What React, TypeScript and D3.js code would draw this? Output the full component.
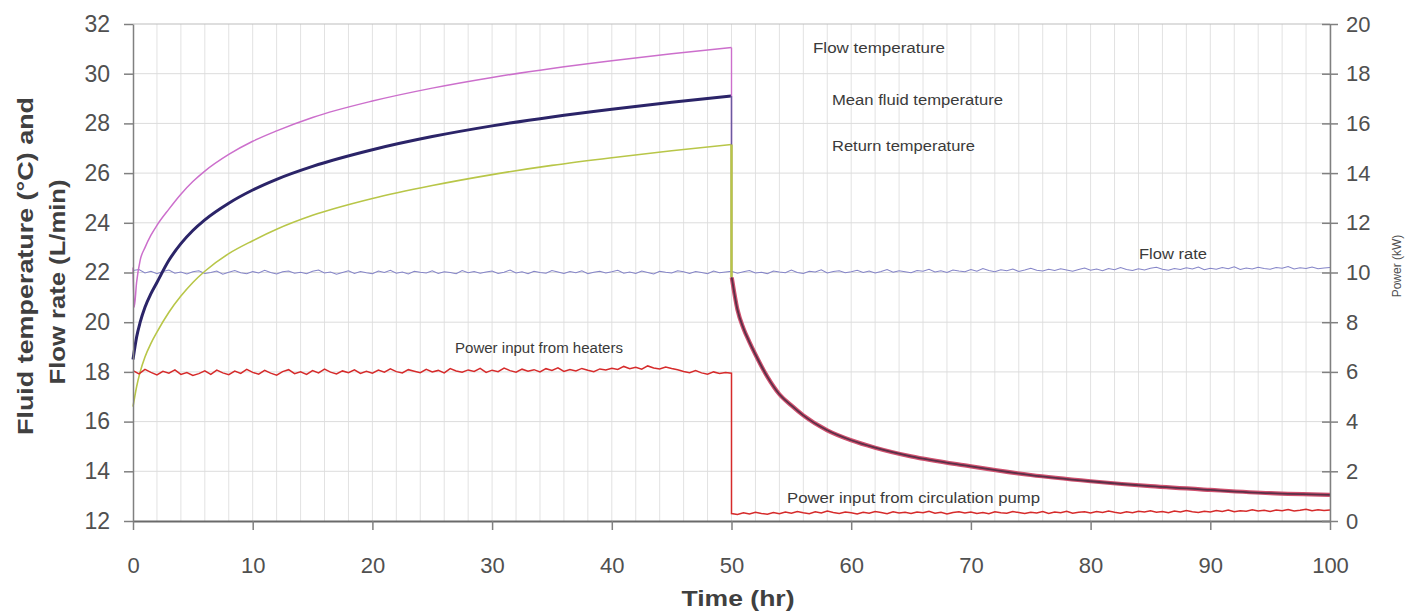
import React, { useRef, useEffect } from 'react';
import * as d3 from 'd3';

// heating phase: sample times (hr) and temperatures (°C)
const flowTempTimes = [0, 0.1, 0.3, 0.6, 1, 1.5, 2, 3, 4, 5, 6, 8, 10, 12, 15, 20, 25, 30, 35, 40, 45, 50];
const flowTempHeat = [22.2, 20.6, 21.6, 22.5, 23.0, 23.5, 23.9, 24.55, 25.15, 25.66, 26.08, 26.75, 27.28, 27.7, 28.24, 28.9, 29.42, 29.85, 30.21, 30.52, 30.8, 31.05];
const tempTimes = [0, 0.3, 0.6, 1, 1.5, 2, 3, 4, 5, 6, 8, 10, 12, 15, 20, 25, 30, 35, 40, 45, 50];
const meanTempHeat = [18.5, 19.4, 20.0, 20.6, 21.15, 21.6, 22.49, 23.16, 23.69, 24.12, 24.79, 25.32, 25.75, 26.27, 26.94, 27.47, 27.9, 28.26, 28.57, 28.85, 29.1];
const returnTempHeat = [16.6, 17.4, 18.0, 18.6, 19.15, 19.6, 20.4, 21.05, 21.6, 22.05, 22.76, 23.28, 23.74, 24.3, 24.98, 25.5, 25.94, 26.31, 26.62, 26.9, 27.15];

// cooling phase: the three temperatures fall together
const coolTimes = [50, 50.02, 50.5, 51, 51.5, 52, 53, 54, 55, 56, 58, 60, 62, 65, 70, 75, 80, 85, 90, 95, 100];
const coolTemp = [29.1, 21.8, 20.5, 19.75, 19.2, 18.7, 17.8, 17.1, 16.65, 16.25, 15.65, 15.25, 14.95, 14.6, 14.2, 13.85, 13.6, 13.4, 13.25, 13.12, 13.05];

// flow rate (L/min), every 0.5 hr from 0 to 100
const flowRate = [
  22.08, 22.12, 21.98, 22.05, 21.95, 22.04, 22.1, 21.97, 22.02, 21.94,
  22.03, 22.07, 21.96, 22.0, 22.06, 21.93, 22.01, 22.08, 21.99, 21.95,
  22.04, 21.98, 22.09, 22.0, 21.94, 22.03, 22.06, 21.97, 22.01, 21.95,
  22.05, 22.1, 21.98, 22.02, 21.93, 22.0, 22.07, 21.96, 22.04, 21.99,
  21.95, 22.06, 22.0, 22.09, 21.97, 22.02, 21.94, 22.05, 22.01, 21.98,
  22.07, 21.96, 22.03, 22.0, 21.95, 22.08, 21.99, 22.04, 21.97, 22.02,
  22.06, 21.96, 22.01, 22.1, 21.98, 22.03, 21.95, 22.05, 22.0, 21.97,
  22.08, 22.02, 21.96, 22.04, 21.99, 22.07, 21.95, 22.01, 22.05, 21.98,
  22.03, 22.09, 21.97, 22.02, 21.96, 22.06, 22.0, 21.94, 22.05, 22.01,
  21.98, 22.07, 22.03, 21.96, 22.04, 22.0, 21.95, 22.06, 21.99, 22.02,
  22.05, 21.97, 22.03, 22.08, 21.98, 22.01, 21.95, 22.06, 22.02, 21.99,
  22.1, 22.0, 21.96, 22.05, 22.02, 22.11, 21.98, 22.04, 22.07, 21.99,
  22.03, 22.09, 22.0, 22.06, 21.98, 22.04, 22.12, 22.01, 22.07, 22.03,
  21.99, 22.08, 22.05, 22.13, 22.02, 22.07, 22.0, 22.1, 22.06, 22.03,
  22.12, 22.05, 22.16, 22.08, 22.03, 22.11, 22.07, 22.14, 22.04, 22.1,
  22.17, 22.09, 22.06, 22.13, 22.08, 22.15, 22.1, 22.05, 22.12, 22.18,
  22.09, 22.14, 22.07, 22.16, 22.11, 22.2, 22.12, 22.08, 22.15, 22.1,
  22.17, 22.21, 22.13, 22.09, 22.16, 22.12, 22.19, 22.14, 22.22, 22.11,
  22.17, 22.13, 22.2, 22.15, 22.23, 22.12, 22.18, 22.14, 22.21, 22.16,
  22.13, 22.2, 22.17, 22.24, 22.14, 22.19, 22.16, 22.22, 22.15, 22.18,
  22.2,
];

// power input from heaters (kW), every 0.5 hr from 0 to 50
const heaterPower = [
  6.05, 5.92, 6.1, 5.98, 5.88, 6.02, 5.95, 6.08, 5.9, 5.97,
  5.86, 5.93, 6.04, 5.9, 6.07, 5.96, 5.89, 6.03, 5.94, 6.1,
  5.98, 5.91, 6.06, 5.95, 5.87, 6.01, 6.09, 5.93, 6.0, 5.9,
  6.05, 5.96, 6.11, 5.99, 5.92, 6.04, 5.97, 6.08, 5.94, 6.02,
  5.95, 6.07, 5.99, 6.12, 6.01, 5.96, 6.09, 6.03, 5.97, 6.1,
  6.0, 6.06, 5.96, 6.13, 6.04, 5.99, 6.08, 6.02, 6.14, 5.98,
  6.07, 6.01, 6.15, 6.05, 5.99, 6.11, 6.03, 6.09, 6.0, 6.13,
  6.06, 6.16, 6.02, 6.1, 6.04, 6.14, 6.07, 6.01, 6.12, 6.08,
  6.15, 6.1, 6.22, 6.13, 6.19, 6.11, 6.24, 6.16, 6.12, 6.2,
  6.14, 6.09, 6.02, 5.97, 6.05, 5.96, 5.91, 6.0, 5.94, 5.98,
  5.95,
];

// power input from circulation pump (kW), every 0.5 hr from 50 to 100
const pumpPower = [
  0.3, 0.26, 0.33, 0.28, 0.35, 0.3, 0.27, 0.34, 0.29, 0.36,
  0.31, 0.38, 0.33, 0.29, 0.37, 0.32, 0.4, 0.34, 0.3, 0.36,
  0.33, 0.28, 0.35, 0.31, 0.38, 0.34, 0.29, 0.37, 0.32, 0.35,
  0.3, 0.36, 0.33, 0.39, 0.31, 0.35, 0.28, 0.34, 0.37, 0.32,
  0.36, 0.3, 0.34, 0.29, 0.37, 0.33, 0.31, 0.38, 0.34, 0.3,
  0.35, 0.32, 0.38, 0.3, 0.36, 0.33, 0.39, 0.31, 0.35, 0.37,
  0.32, 0.38, 0.34, 0.4, 0.35, 0.31, 0.37, 0.33, 0.39, 0.36,
  0.41, 0.35, 0.38, 0.33, 0.4, 0.36, 0.42, 0.37, 0.34, 0.39,
  0.36, 0.42, 0.38, 0.44, 0.37, 0.41, 0.39, 0.45, 0.4, 0.43,
  0.38, 0.44, 0.41, 0.46, 0.4, 0.43, 0.47, 0.41, 0.45, 0.42,
  0.44,
];

const xTicks = [0, 10, 20, 30, 40, 50, 60, 70, 80, 90, 100];
const leftTicks = [12, 14, 16, 18, 20, 22, 24, 26, 28, 30, 32];
const rightTicks = [0, 2, 4, 6, 8, 10, 12, 14, 16, 18, 20];

const FONT = '"Liberation Sans", Arial, sans-serif';

const App = () => {
  const svgRef = useRef(null);

  useEffect(() => {
    const svg = d3.select(svgRef.current);
    svg.selectAll('*').remove();

    const width = 1412;
    const height = 614;
    const margin = { top: 24, right: 82, bottom: 93, left: 133 };
    const x0 = margin.left;
    const x1 = width - margin.right;
    const yTop = margin.top;
    const yBot = height - margin.bottom;

    const x = d3.scaleLinear().domain([0, 100]).range([x0, x1]);
    const yL = d3.scaleLinear().domain([12, 32]).range([yBot, yTop]);
    const yR = d3.scaleLinear().domain([0, 20]).range([yBot, yTop]);

    // grid
    const grid = svg.append('g');
    grid.selectAll('.vg')
      .data(d3.range(2, 101, 2))
      .enter()
      .append('line')
      .attr('x1', d => x(d)).attr('x2', d => x(d))
      .attr('y1', yTop).attr('y2', yBot)
      .attr('stroke', '#e2e2e2').attr('stroke-width', 1);
    grid.selectAll('.hg')
      .data(leftTicks.slice(1))
      .enter()
      .append('line')
      .attr('x1', x0).attr('x2', x1)
      .attr('y1', d => yL(d)).attr('y2', d => yL(d))
      .attr('stroke', d => (d === 32 ? '#bdbdbd' : '#dcdcdc')).attr('stroke-width', 1);

    const halfHours = (start, n) => d3.range(n).map(i => start + i * 0.5);

    const toPts = (ts, vs) => ts.map((t, i) => [t, vs[i]]);
    const lineL = d3.line().x(d => x(d[0])).y(d => yL(d[1])).curve(d3.curveMonotoneX);
    const lineLin = d3.line().x(d => x(d[0])).y(d => yL(d[1]));
    const lineR = d3.line().x(d => x(d[0])).y(d => yR(d[1]));

    // flow rate
    svg.append('path')
      .attr('d', lineLin(toPts(halfHours(0, flowRate.length), flowRate)))
      .attr('fill', 'none').attr('stroke', '#8585c8').attr('stroke-width', 1.1);

    // temperatures, heating phase
    const heatFlow = toPts(flowTempTimes, flowTempHeat);
    const heatMean = toPts(tempTimes, meanTempHeat);
    const heatReturn = toPts(tempTimes, returnTempHeat);
    svg.append('path').attr('d', lineL(heatReturn))
      .attr('fill', 'none').attr('stroke', '#b8c648').attr('stroke-width', 1.6);
    svg.append('path').attr('d', lineL(heatMean))
      .attr('fill', 'none').attr('stroke', '#2b2468').attr('stroke-width', 3);
    svg.append('path').attr('d', lineL(heatFlow))
      .attr('fill', 'none').attr('stroke', '#cc6fcc').attr('stroke-width', 1.5);

    // vertical drops at 50 hr
    const dropTop = [flowTempHeat[flowTempHeat.length - 1], meanTempHeat[meanTempHeat.length - 1], returnTempHeat[returnTempHeat.length - 1]];
    const dropColors = ['#cc6fcc', '#6a5aa0', '#b8c648'];
    dropTop.forEach((v, i) => {
      svg.append('path')
        .attr('d', lineLin([[50, v], [50, coolTemp[1]]]))
        .attr('fill', 'none').attr('stroke', dropColors[i]).attr('stroke-width', i === 2 ? 2.5 : 1.4);
    });

    // cooling phase, three temperatures on top of each other
    const coolPts = toPts(coolTimes.slice(1), coolTemp.slice(1));
    svg.append('path').attr('d', lineL(coolPts))
      .attr('fill', 'none').attr('stroke', '#d0506e').attr('stroke-width', 4.2);
    svg.append('path').attr('d', lineL(coolPts))
      .attr('fill', 'none').attr('stroke', '#5a3048').attr('stroke-width', 1.8);

    // power
    const powerPts = toPts(halfHours(0, heaterPower.length), heaterPower)
      .concat(toPts(halfHours(50, pumpPower.length), pumpPower));
    svg.append('path').attr('d', lineR(powerPts))
      .attr('fill', 'none').attr('stroke', '#d62b2b').attr('stroke-width', 1.5);

    // axes
    const styleAxis = (g, size) => {
      g.select('.domain').attr('stroke', '#808080').attr('stroke-width', 1.5);
      g.selectAll('.tick line').attr('stroke', '#808080').attr('stroke-width', 1.5);
      g.selectAll('.tick text')
        .attr('fill', '#505050')
        .style('font-family', FONT)
        .style('font-size', `${size}px`);
    };

    const gx = svg.append('g')
      .attr('transform', `translate(0, ${yBot})`)
      .call(d3.axisBottom(x).tickValues(xTicks).tickSize(9).tickSizeOuter(0).tickPadding(27));
    styleAxis(gx, 22);
    gx.select('.domain').attr('stroke', '#6a6a6a').attr('stroke-width', 2);

    const gl = svg.append('g')
      .attr('transform', `translate(${x0}, 0)`)
      .call(d3.axisLeft(yL).tickValues(leftTicks).tickSize(9).tickSizeOuter(0).tickPadding(14));
    styleAxis(gl, 23);

    const gr = svg.append('g')
      .attr('transform', `translate(${x1}, 0)`)
      .call(d3.axisRight(yR).tickValues(rightTicks).tickSize(8).tickSizeOuter(0).tickPadding(8));
    styleAxis(gr, 22);
    gr.selectAll('.tick line').attr('x1', -8).attr('x2', 8);

    // axis titles
    const titles = [
      { text: 'Fluid temperature (°C) and', x: 33, y: 266, w: 338 },
      { text: 'Flow rate (L/min)', x: 65, y: 282, w: 205 },
    ];
    titles.forEach(t => {
      svg.append('text')
        .attr('transform', `translate(${t.x}, ${t.y}) rotate(-90)`)
        .attr('text-anchor', 'middle')
        .attr('textLength', t.w)
        .attr('lengthAdjust', 'spacingAndGlyphs')
        .attr('fill', '#404040')
        .style('font-family', FONT).style('font-size', '22px').style('font-weight', 'bold')
        .text(t.text);
    });

    svg.append('text')
      .attr('transform', 'translate(1401, 266) rotate(-90)')
      .attr('text-anchor', 'middle')
      .attr('fill', '#505050')
      .style('font-family', FONT).style('font-size', '12px')
      .text('Power (kW)');

    svg.append('text')
      .attr('x', 738).attr('y', 606)
      .attr('text-anchor', 'middle')
      .attr('textLength', 113)
      .attr('lengthAdjust', 'spacingAndGlyphs')
      .attr('fill', '#404040')
      .style('font-family', FONT).style('font-size', '22px').style('font-weight', 'bold')
      .text('Time (hr)');

    // series labels
    const labels = [
      { text: 'Flow temperature', x: 813, y: 53, w: 132 },
      { text: 'Mean fluid temperature', x: 832, y: 105, w: 171 },
      { text: 'Return temperature', x: 832, y: 151, w: 143 },
      { text: 'Flow rate', x: 1139, y: 259, w: 68 },
      { text: 'Power input from heaters', x: 455, y: 353, w: 168 },
      { text: 'Power input from circulation pump', x: 787, y: 503, w: 253 },
    ];
    svg.selectAll('.lbl')
      .data(labels)
      .enter()
      .append('text')
      .attr('x', d => d.x).attr('y', d => d.y)
      .attr('textLength', d => d.w)
      .attr('lengthAdjust', 'spacingAndGlyphs')
      .attr('fill', '#3a3a3a')
      .style('font-family', FONT).style('font-size', '14px')
      .text(d => d.text);
  }, []);

  return (
    <svg
      ref={svgRef}
      width={1412}
      height={614}
      style={{ position: 'absolute', left: 0, top: 0, background: '#fff' }}
    />
  );
};

export default App;
